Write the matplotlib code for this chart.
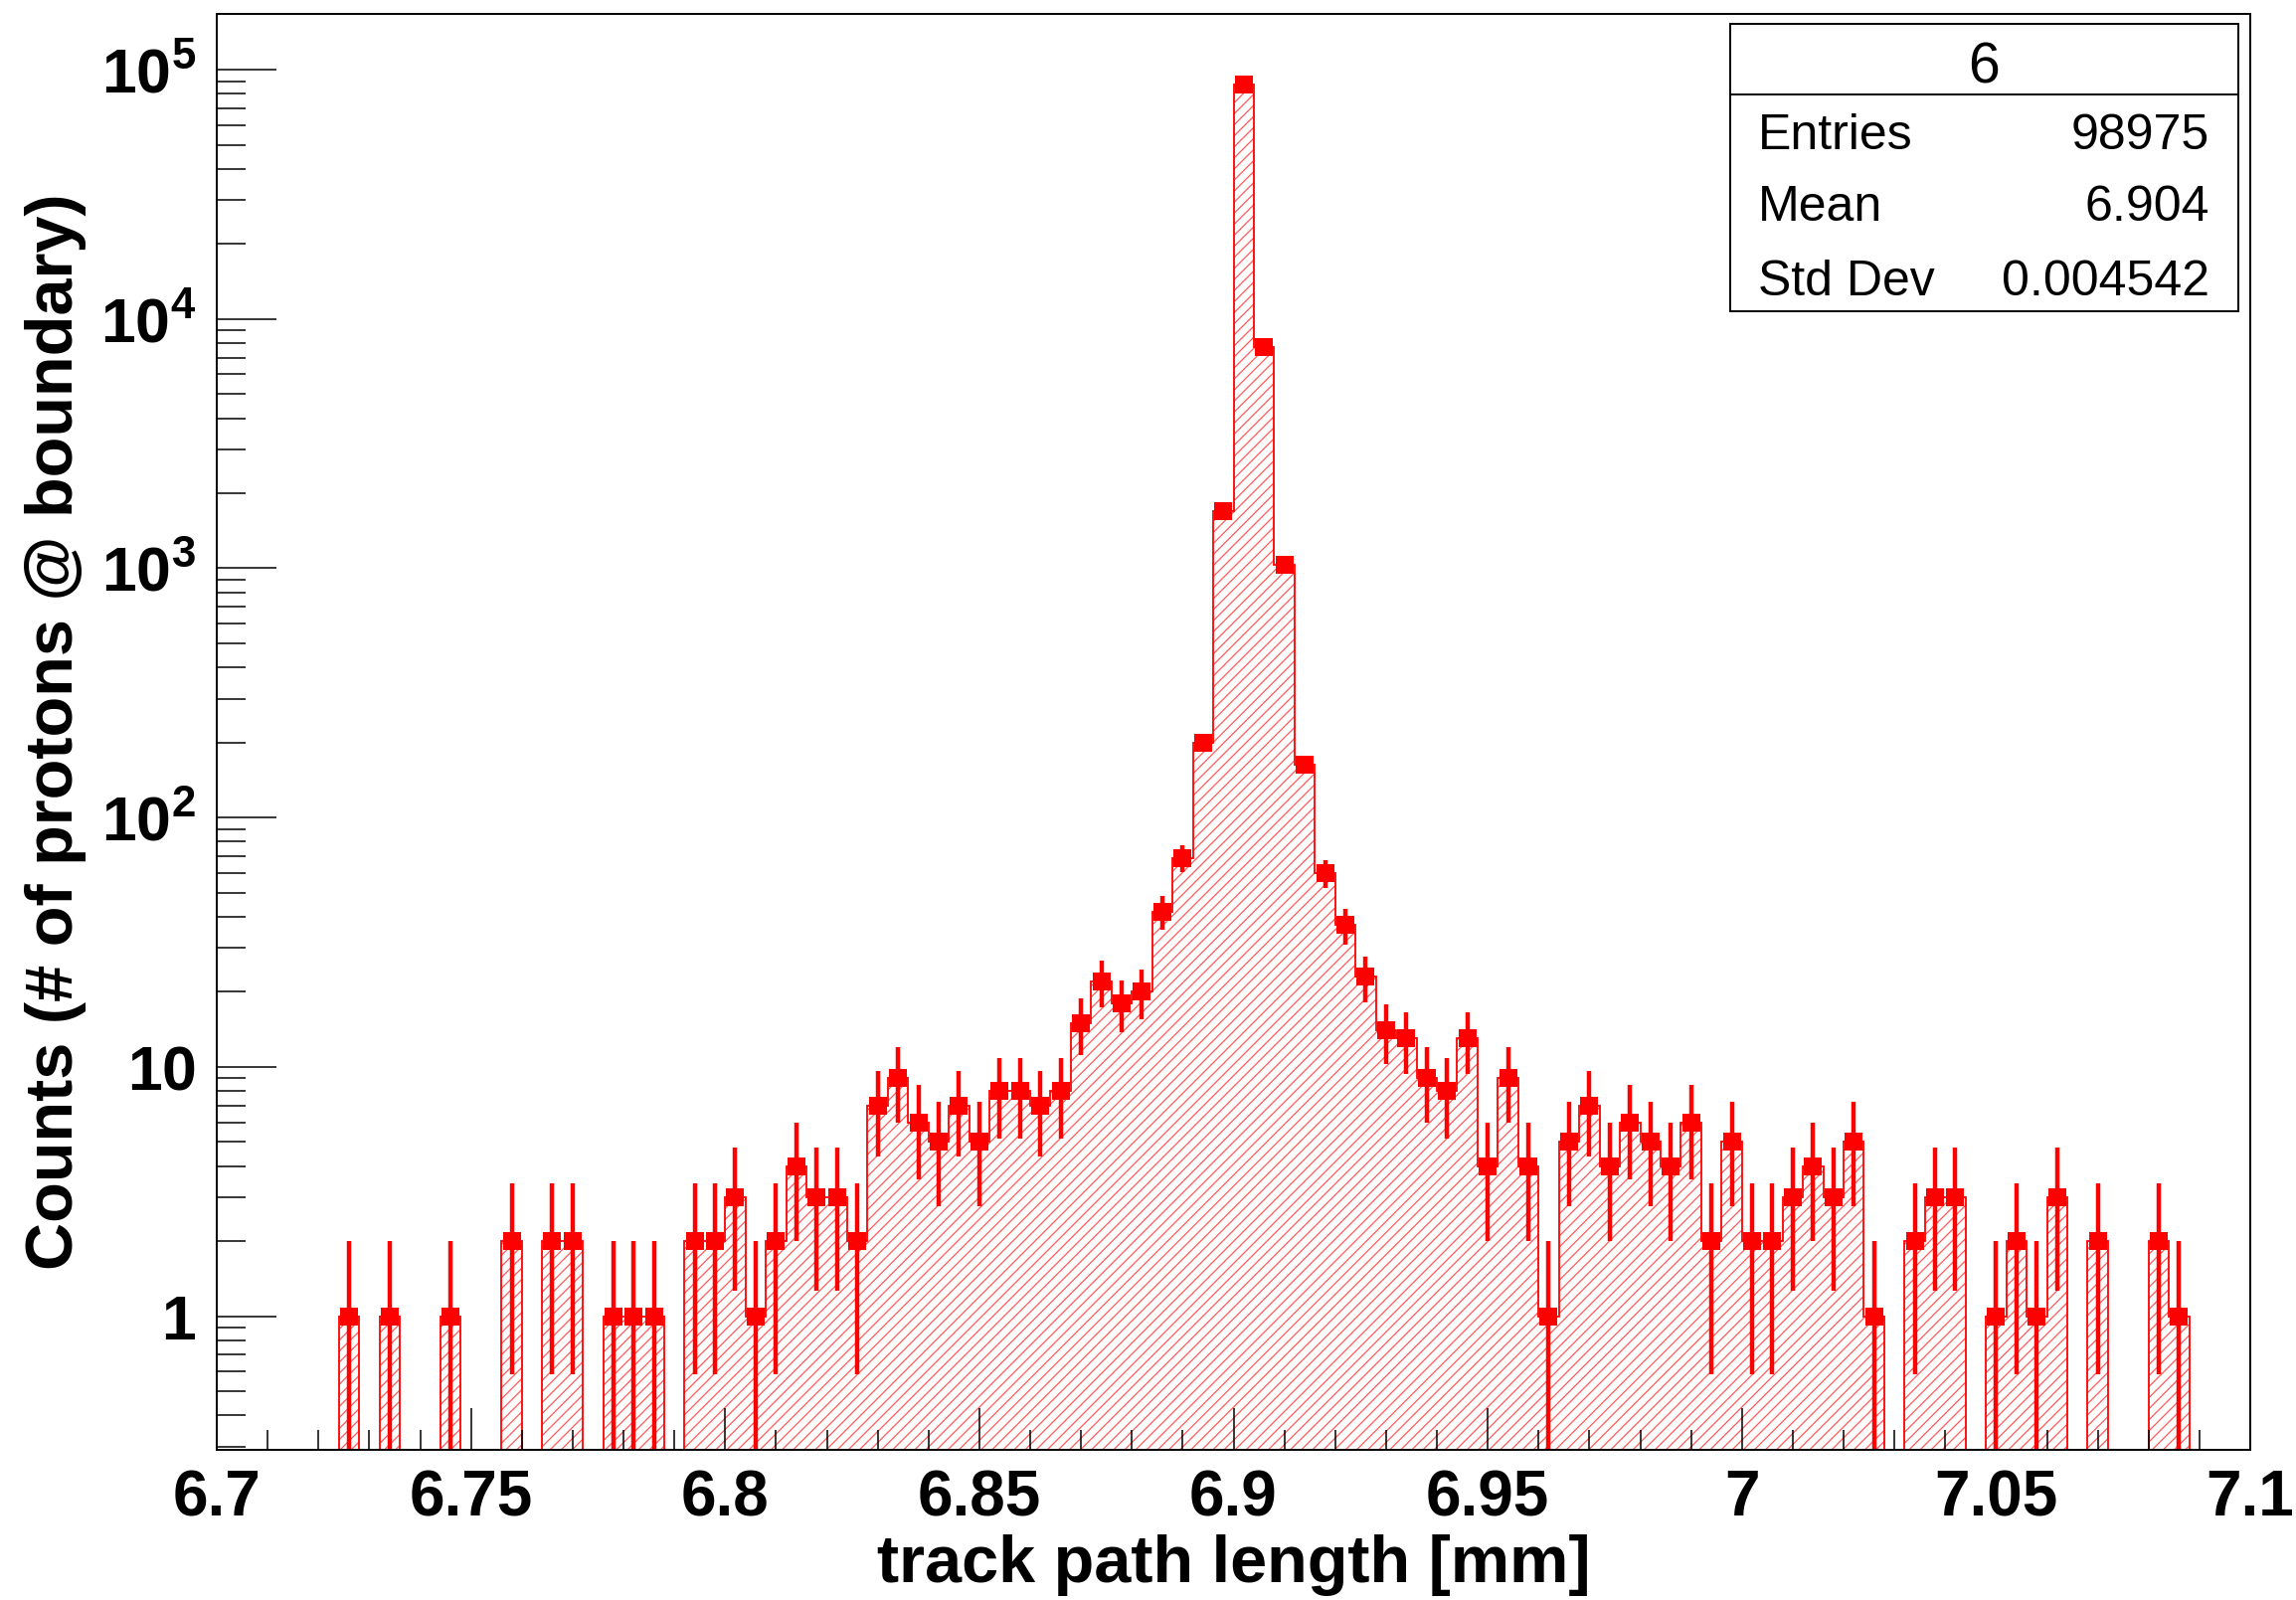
import numpy as np
import matplotlib
matplotlib.use('Agg')
import matplotlib.pyplot as plt
import matplotlib.ticker as tck
from matplotlib.patches import Rectangle
from matplotlib.lines import Line2D

# track path length histogram, 100 bins of 0.004 mm
x_min, x_max, n_bins = 6.7, 7.1, 100
counts = np.array([
    0, 0, 0, 0, 0, 0, 1, 0, 1, 0,
    0, 1, 0, 0, 2, 0, 2, 2, 0, 1,
    1, 1, 0, 2, 2, 3, 1, 2, 4, 3,
    3, 2, 7, 9, 6, 5, 7, 5, 8, 8,
    7, 8, 15, 22, 18, 20, 42, 69, 200, 1700,
    87593, 7720, 1030, 163, 60, 37, 23, 14, 13, 9,
    8, 13, 4, 9, 4, 1, 5, 7, 4, 6,
    5, 4, 6, 2, 5, 2, 2, 3, 4, 3,
    5, 1, 0, 2, 3, 3, 0, 1, 2, 1,
    3, 0, 2, 0, 0, 2, 1, 0, 0, 0,
], dtype=float)

stats_title = "6"
stats_rows = [("Entries", "98975"), ("Mean", "6.904"), ("Std Dev", "0.004542")]

y_major = [1, 10, 1e2, 1e3, 1e4, 1e5]
y_major_labels = ["$1$", "$10$", "$10^{2}$", "$10^{3}$", "$10^{4}$", "$10^{5}$"]

edges = np.linspace(x_min, x_max, n_bins + 1)
centers = 0.5 * (edges[:-1] + edges[1:])
filled = counts > 0
floor = 1e-3
draw_counts = np.where(filled, counts, floor)

plt.rcParams['font.family'] = ['Liberation Sans', 'DejaVu Sans']
plt.rcParams['mathtext.fontset'] = 'custom'
plt.rcParams['mathtext.rm'] = 'Liberation Sans:bold'
plt.rcParams['mathtext.it'] = 'Liberation Sans:bold:italic'
plt.rcParams['mathtext.bf'] = 'Liberation Sans:bold'
plt.rcParams['mathtext.default'] = 'rm'
plt.rcParams['hatch.linewidth'] = 0.9

W, H = 2309, 1609
fig = plt.figure(figsize=(W / 100, H / 100), dpi=100)
ax_l, ax_r, ax_t, ax_b = 218, 2263, 14, 1458
ax = fig.add_axes([ax_l / W, 1 - ax_b / H, (ax_r - ax_l) / W, (ax_b - ax_t) / H])

# hatched fill and outline
ax.stairs(draw_counts, edges, baseline=floor, fill=True, facecolor='none',
          edgecolor='#ff5a5a', hatch='///', linewidth=0)
ax.stairs(draw_counts, edges, baseline=floor, color='red', linewidth=1.3)

# poisson error bars and markers
err = np.sqrt(counts[filled])
lo = np.maximum(counts[filled] - err, floor)
hi = counts[filled] + err
ax.vlines(centers[filled], lo, hi, color='red', linewidth=3.2)
ax.plot(centers[filled], counts[filled], 's', color='red', markersize=12.5,
        markeredgewidth=0)

ax.set_yscale('log')
ax.set_xlim(x_min, x_max)
ax.set_ylim(0.291, 1.674e5)

ax.yaxis.set_major_locator(tck.FixedLocator(y_major))
ax.yaxis.set_major_formatter(tck.FixedFormatter(y_major_labels))
ax.yaxis.set_minor_locator(tck.LogLocator(base=10, subs=np.arange(2, 10), numticks=20))
ax.yaxis.set_minor_formatter(tck.NullFormatter())
ax.xaxis.set_major_locator(tck.MultipleLocator(0.05))
ax.xaxis.set_minor_locator(tck.MultipleLocator(0.01))
ax.xaxis.set_major_formatter(tck.FuncFormatter(lambda v, p: '%g' % round(v, 3)))

ax.tick_params(axis='y', which='major', direction='in', length=43, width=1.1,
               pad=15, labelsize=45)
ax.tick_params(axis='y', which='minor', direction='in', length=21, width=1.1)
ax.tick_params(axis='x', which='major', direction='in', length=30, width=1.1,
               pad=14, labelsize=46)
ax.tick_params(axis='x', which='minor', direction='in', length=14.5, width=1.1)
for lab in ax.get_xticklabels():
    lab.set_fontweight('bold')
for sp in ax.spines.values():
    sp.set_linewidth(1.4)

ax.set_xlabel("track path length [mm]", fontsize=48, fontweight='bold', va='center')
ax.xaxis.set_label_coords(0.5, (ax_b - 1574) / (ax_b - ax_t))
ax.set_ylabel("Counts (# of protons @ boundary)", fontsize=48, fontweight='bold',
              va='center')
ax.yaxis.set_label_coords((56 - ax_l) / (ax_r - ax_l), 0.5)

# statistics box
bx0, bx1, by0, by1, bsep = 1740, 2251, 24, 313, 95
fig.patches.append(Rectangle((bx0 / W, 1 - by1 / H), (bx1 - bx0) / W, (by1 - by0) / H,
                             transform=fig.transFigure, facecolor='white',
                             edgecolor='black', linewidth=1.4, zorder=5))
fig.lines.append(Line2D([bx0 / W, bx1 / W], [1 - bsep / H, 1 - bsep / H],
                        transform=fig.transFigure, color='black', linewidth=1.4,
                        zorder=6))
fig.text(1995 / W, 1 - 83 / H, stats_title, fontsize=41, ha='center',
         va='baseline', zorder=7)
for (name, val), base in zip(stats_rows, [150, 222, 297]):
    fig.text(1768 / W, 1 - base / H, name, fontsize=36, ha='left', va='baseline', zorder=7)
    fig.text(2222 / W, 1 - base / H, val, fontsize=36, ha='right', va='baseline', zorder=7)

fig.savefig('out.png', dpi=100, facecolor='white')
